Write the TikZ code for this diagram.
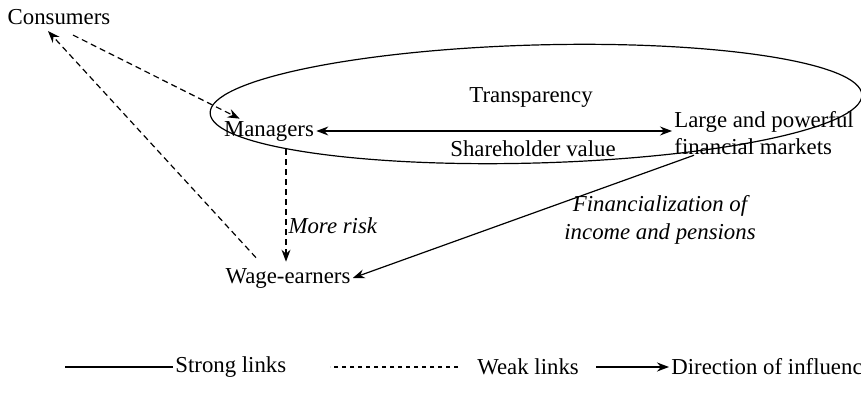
\documentclass[tikz,border=0pt]{standalone}
\usepackage{fontspec}
\setmainfont{Liberation Serif}
\usepackage{tikz}
\usetikzlibrary{arrows.meta,calc}
\tikzstyle{strong}=[
	line width=0.6pt,
	draw=black
]
\tikzstyle{weak}=[
	line width=0.6pt,
	draw=black,
	dash pattern=on 3pt off 2pt
]
\tikzstyle{actor}=[
    inner sep=1pt,
    font=\fontsize{11.4}{13.7}\selectfont
]
\tikzstyle{tip}=[
    -{Stealth[length=6pt,width=4.5pt,inset=2pt]}
]

\begin{document}
\begin{tikzpicture}[x=0.5pt,y=-0.5pt]
\useasboundingbox (0,0) rectangle (861,400);

\node[actor] (cons) at (59,17) {Consumers};
\node[actor] (mgr) at (269,131) {Managers};
\node[actor, anchor=west, align=left] (mkt) at (672,133) {Large and powerful\\financial markets};
\node[actor] (wage) at (288,278) {Wage-earners};
\node[actor] (transp) at (531,98) {Transparency};
\node[actor] (share) at (533,149) {Shareholder value};
\node[actor, font=\fontsize{11.4}{13.7}\selectfont\itshape, align=center] (fin) at (660,220) {Financialization of\\income and pensions};

\draw[strong] (536,104) ellipse [x radius=326, y radius=59, rotate=1.6];

\coordinate (risktop) at ($(mgr.south)+(17,6)$);
\coordinate (riskend) at (risktop |- wage.north);
\draw[strong, {Stealth[length=6pt,width=4.5pt,inset=2pt]}-{Stealth[length=6pt,width=4.5pt,inset=2pt]}] (mgr.east) -- (mgr.east -| mkt.west);
\draw[weak, tip] (risktop) -- node[actor, pos=0.68, right, font=\fontsize{11.4}{13.7}\selectfont\itshape] (risk) {More risk} ($(riskend)+(0,-4)$);
\draw[strong, tip] ($(mkt.south west)+(22,-2)$) -- (wage.east);
\draw[weak, tip] ($(cons.south)+(14,8)$) -- ($(mgr.north west)+(18,0)$);
\draw[weak, tip] ($(wage.north)+(-32,-8)$) -- ($(cons.south)+(-11,4)$);

% legend
\node[actor, anchor=west] (lstrong) at (173,367) {Strong links};
\node[actor, anchor=west] (lweak) at (475,367) {Weak links};
\node[actor, anchor=west] (ldir) at (669,367) {Direction of influence};
\draw[strong] (lstrong.west) -- ++(-108,0);
\draw[strong, dash pattern=on 2pt off 2pt] ($(lweak.west)+(-17,0)$) -- ++(-128,0);
\draw[strong, line width=0.9pt, tip] ($(ldir.west)+(-73,0)$) -- (ldir.west);
\end{tikzpicture}
\end{document}
